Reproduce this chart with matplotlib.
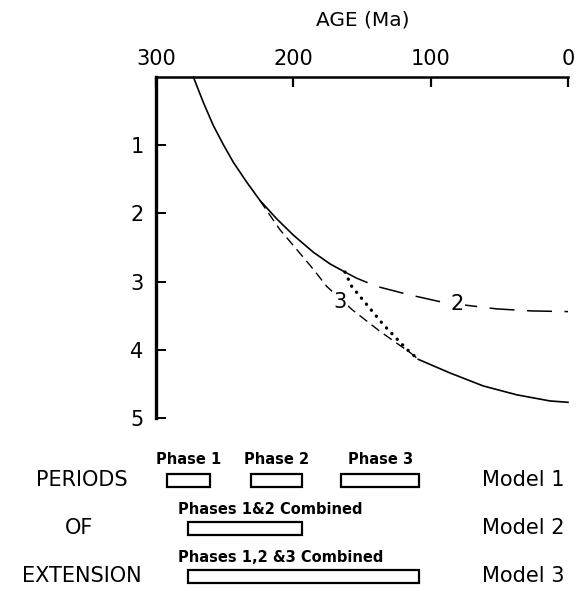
import matplotlib
matplotlib.use("Agg")
import matplotlib.pyplot as plt
from matplotlib.patches import Rectangle

plt.rcParams['font.family'] = ['DejaVu Sans']
plt.rcParams['lines.scale_dashes'] = False

# age (Ma) / depth
solid_early_age = [272.8, 265.6, 258.3, 251.0, 243.7, 234.0, 224.3, 212.1, 199.9, 185.4, 173.3, 162.4]
solid_early_depth = [0.0, 0.37, 0.71, 0.99, 1.25, 1.54, 1.81, 2.08, 2.32, 2.57, 2.74, 2.86]
solid_late_age = [109.0, 85.9, 61.7, 37.3, 13.1, 0.0]
solid_late_depth = [4.14, 4.34, 4.53, 4.66, 4.75, 4.77]

model2_age = [162.4, 153.9, 139.3, 116.3, 92.0, 81.0, 52.0, 26.5, 0.0]
model2_depth = [2.86, 2.95, 3.07, 3.19, 3.30, 3.33, 3.40, 3.43, 3.44]

model3_age = [224.3, 218.3, 209.7, 197.5, 185.4, 175.7, 157.3, 136.9, 115.0, 109.0]
model3_depth = [1.81, 1.99, 2.24, 2.53, 2.82, 3.07, 3.41, 3.73, 4.04, 4.14]

dotted_age = [162.4, 157.5, 134.5, 117.5, 109.0]
dotted_depth = [2.86, 3.07, 3.63, 3.99, 4.14]

age_ticks = [300, 200, 100, 0]
depth_ticks = [1, 2, 3, 4, 5]

# periods of extension (start age, end age)
phase_labels = ['Phase 1', 'Phase 2', 'Phase 3']
phase_start = [292, 231, 165]
phase_end = [261, 194, 108.5]
combined_labels = ['Phases 1&2 Combined', 'Phases 1,2 &3 Combined']
combined_start = [277, 277]
combined_end = [194, 108.5]
model_labels = ['Model 1', 'Model 2', 'Model 3']
side_labels = ['PERIODS', 'OF', 'EXTENSION']

W, H = 576, 589
fig = plt.figure(figsize=(W / 100, H / 100), dpi=100)


def fx(px):
    return px / W


def fy(py):
    return 1 - py / H


ax = fig.add_axes([fx(156), fy(418), (568 - 156) / W, (418 - 77) / H])
ax.set_xlim(300, 0)
ax.set_ylim(5, 0)
ax.spines['right'].set_visible(False)
ax.spines['bottom'].set_visible(False)
ax.spines['left'].set_linewidth(2.4)
ax.spines['top'].set_linewidth(1.8)
ax.xaxis.tick_top()
ax.set_xticks(age_ticks)
ax.set_yticks(depth_ticks)
ax.tick_params(axis='x', direction='in', length=7, width=1.6, pad=6, labelsize=15)
ax.tick_params(axis='y', direction='in', length=7, width=1.4, pad=9, labelsize=15)

ax.plot(solid_early_age, solid_early_depth, color='black', lw=1.2, clip_on=False)
ax.plot(solid_late_age, solid_late_depth, color='black', lw=1.2, clip_on=False)
ax.plot(model2_age, model2_depth, color='black', lw=1.1, linestyle=(0, (18, 9)), clip_on=False)
ax.plot(model3_age, model3_depth, color='black', lw=1.0, linestyle=(0, (7, 4)), clip_on=False)
ax.plot(dotted_age, dotted_depth, color='black', lw=2.4, linestyle=(0, (0.1, 5.5)),
        dash_capstyle='round', clip_on=False)

ax.text(81, 3.33, '2', fontsize=15, ha='center', va='center',
        bbox=dict(facecolor='white', edgecolor='none', pad=1))
ax.text(166, 3.3, '3', fontsize=15, ha='center', va='center',
        bbox=dict(facecolor='white', edgecolor='none', pad=1))

fig.text(fx(363), fy(20), 'AGE (Ma)', fontsize=14.5, ha='center', va='center')

# lower panel with the extension periods
ax2 = fig.add_axes([fx(156), 0, (568 - 156) / W, 149 / H])
ax2.set_xlim(300, 0)
ax2.set_ylim(H, 440)
ax2.axis('off')

row_y = [480, 528.5, 576.5]
bar_h = 13

for s, e, lab in zip(phase_start, phase_end, phase_labels):
    ax2.add_patch(Rectangle((e, row_y[0] - bar_h / 2), s - e, bar_h,
                            facecolor='white', edgecolor='black', lw=1.6))
    ax2.text((s + e) / 2, 460, lab, fontsize=10.5, fontweight='bold',
             ha='center', va='center')

for i, (s, e, lab) in enumerate(zip(combined_start, combined_end, combined_labels)):
    y = row_y[i + 1]
    ax2.add_patch(Rectangle((e, y - bar_h / 2), s - e, bar_h,
                            facecolor='white', edgecolor='black', lw=1.6))
    fig.text(fx(178), fy(y - 19), lab, fontsize=10.5, fontweight='bold',
             ha='left', va='center')

side_x = [82, 79, 82]
for x, y, lab in zip(side_x, row_y, side_labels):
    fig.text(fx(x), fy(y), lab, fontsize=15, ha='center', va='center')

for y, lab in zip(row_y, model_labels):
    fig.text(fx(523), fy(y), lab, fontsize=15, ha='center', va='center')

fig.savefig('out.png', dpi=100)
